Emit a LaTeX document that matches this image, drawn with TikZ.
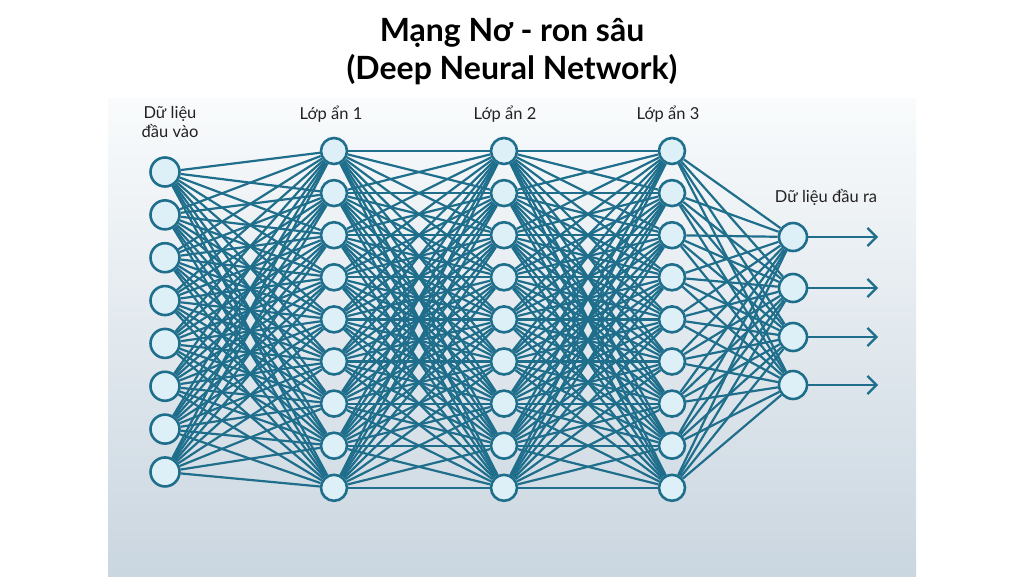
\documentclass[tikz,border=0pt]{standalone}
\usepackage{fontspec}
\setmainfont{Lato}
\usetikzlibrary{arrows.meta}
\definecolor{edgec}{HTML}{1F6E8C}
\definecolor{nodefill}{HTML}{DDF0F8}
\definecolor{paneltop}{HTML}{F9FBFC}
\definecolor{panelbot}{HTML}{CAD6E0}
\definecolor{txt}{HTML}{222222}
\pgfdeclarelayer{bg}
\pgfdeclarelayer{edges}
\pgfsetlayers{bg,edges,main}
\begin{document}
\begin{tikzpicture}[x=1pt,y=-1pt,
  neuron/.style={circle,draw=edgec,fill=nodefill,line width=2.6pt,inner sep=0pt,minimum size=#1},
  inp/.style={neuron=29pt},
  hid/.style={neuron=26pt},
  outn/.style={neuron=28pt},
  edge/.style={draw=edgec,line width=2.2pt},
  outarrow/.style={draw=edgec,line width=2.2pt,-{Straight Barb[length=9pt,width=18pt,line width=2.2pt]}},
  lab/.style={text=txt,font=\fontsize{16.5}{18.5}\selectfont,align=center,inner sep=0pt},
  ttl/.style={text=black,font=\fontsize{32}{38}\selectfont\bfseries,align=center,inner sep=0pt}]
\useasboundingbox (0,0) rectangle (1024,576);
\begin{pgfonlayer}{bg}
  \fill[white] (0,0) rectangle (1024,576);
  \shade[top color=paneltop,bottom color=panelbot] (108,98) rectangle (916,576);
\end{pgfonlayer}
% title
\node[ttl] (t1) at (512,33) {Mạng Nơ - ron sâu};
\node[ttl] (t2) at (512,70) {(Deep Neural Network)};
% layer labels
\node[lab] (lin) at (170,122) {Dữ liệu\\đầu vào};
\node[lab] (l1) at (331,114) {Lớp ẩn 1};
\node[lab] (l2) at (505,114) {Lớp ẩn 2};
\node[lab] (l3) at (668,114) {Lớp ẩn 3};
\node[lab] (lout) at (826,197) {Dữ liệu đầu ra};
% nodes
\foreach \i in {1,...,8} \node[inp] (i\i) at (165,{172+(\i-1)*42.85}) {};
\foreach \j in {1,...,9} {
  \node[hid] (a\j) at (334,{151+(\j-1)*42.1}) {};
  \node[hid] (b\j) at (504,{151+(\j-1)*42.1}) {};
  \node[hid] (c\j) at (672,{151+(\j-1)*42.1}) {};
}
\foreach \k/\y in {1/237,2/288,3/337,4/385} {
  \node[outn] (o\k) at (793,\y) {};
  \coordinate (e\k) at (878,\y);
}
% connections
\begin{pgfonlayer}{edges}
  \foreach \i in {1,...,8} \foreach \j in {1,...,9} \draw[edge] (i\i) -- (a\j);
  \foreach \i in {1,...,9} \foreach \j in {1,...,9} {
    \draw[edge] (a\i) -- (b\j);
    \draw[edge] (b\i) -- (c\j);
  }
  \foreach \i in {1,...,9} \foreach \k in {1,...,4} \draw[edge] (c\i) -- (o\k);
\end{pgfonlayer}
\foreach \k in {1,...,4} \draw[outarrow] (o\k) -- (e\k);
\end{tikzpicture}
\end{document}
